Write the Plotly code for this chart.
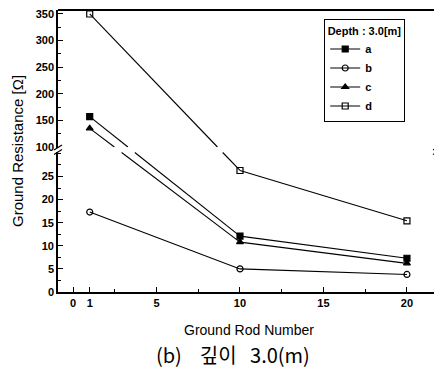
import plotly.graph_objects as go

# ---- data ----
rod_number = [1, 10, 20]
series_names = ["a", "b", "c", "d"]
res_a = [157, 12.1, 7.3]
res_b = [17.3, 5.0, 3.8]
res_c = [135, 10.8, 6.2]
res_d = [350, 26.3, 15.4]
symbols = {"a": "square", "b": "circle-open", "c": "triangle-up", "d": "square-open"}
x_ticks = [0, 1, 5, 10, 15, 20]
upper_ticks = [100, 150, 200, 250, 300, 350]
lower_ticks = [0, 5, 10, 15, 20, 25]

# ---- layout geometry (page pixels; page body has an 8px margin) ----
OFF = 8
W, H = 442 - OFF, 368 - OFF
P_LEFT, P_RIGHT, P_TOP, P_BOTTOM = 58, 437, 10, 292
ML, MR = P_LEFT - OFF, W - (P_RIGHT - OFF)
MT, MB = P_TOP - OFF, H - (P_BOTTOM - OFF)
PW, PH = P_RIGHT - P_LEFT, P_BOTTOM - P_TOP
XR = [-0.9, 21.8]
RU = [99, 357.5]
RL = [0, 30.3]
DU = [(P_BOTTOM - 147.5) / PH, 1.0]
DL = [0.0, (P_BOTTOM - 152) / PH]
SPLIT = 60
GAP = 0.5 / PH

def py_u(v):
    return DU[0] + (v - RU[0]) / (RU[1] - RU[0]) * (DU[1] - DU[0])

def py_l(v):
    return DL[0] + (v - RL[0]) / (RL[1] - RL[0]) * (DL[1] - DL[0])

def py(v):
    return py_u(v) if v > SPLIT else py_l(v)

fig = go.Figure()
line_style = dict(color="black", width=1.1)
data = {"a": res_a, "b": res_b, "c": res_c, "d": res_d}

for name in series_names:
    vals = data[name]
    up_x, up_y, lo_x, lo_y = [], [], [], []
    for xv, v in zip(rod_number, vals):
        if v > SPLIT:
            up_x.append(xv); up_y.append(v)
        else:
            lo_x.append(xv); lo_y.append(v)
    # bridges across the axis break
    for i in range(len(vals) - 1):
        v1, v2 = vals[i], vals[i + 1]
        if v1 > SPLIT and v2 <= SPLIT:
            x1, x2 = rod_number[i], rod_number[i + 1]
            p1, p2 = py(v1), py(v2)
            tu = (p1 - (DU[0] + GAP)) / (p1 - p2)
            tl = (p1 - (DL[1] - GAP)) / (p1 - p2)
            xu = x1 + tu * (x2 - x1)
            xl = x1 + tl * (x2 - x1)
            yu = RU[0] + GAP / (DU[1] - DU[0]) * (RU[1] - RU[0])
            yl = RL[1] - GAP / (DL[1] - DL[0]) * (RL[1] - RL[0])
            fig.add_trace(go.Scatter(x=[x1, xu], y=[v1, yu], mode="lines", line=line_style,
                                     xaxis="x", yaxis="y2", showlegend=False, hoverinfo="skip"))
            fig.add_trace(go.Scatter(x=[xl, x2], y=[yl, v2], mode="lines", line=line_style,
                                     xaxis="x", yaxis="y", showlegend=False, hoverinfo="skip"))
    mk = dict(symbol=symbols[name], size=6, color="black", line=dict(color="black", width=1.2))
    if up_x:
        fig.add_trace(go.Scatter(x=up_x, y=up_y, mode="lines+markers", line=line_style, marker=mk,
                                 xaxis="x", yaxis="y2", showlegend=False))
    fig.add_trace(go.Scatter(x=lo_x, y=lo_y, mode="lines+markers", line=line_style, marker=mk,
                             xaxis="x", yaxis="y", name=name, showlegend=True))

FONT = "Liberation Sans, Arial, sans-serif"
tickfont = dict(family=FONT, size=11, color="black", weight="bold")
common_y = dict(showline=True, linecolor="black", linewidth=1.6, mirror=True, ticks="inside",
                ticklen=5, tickcolor="black", tickfont=tickfont, showgrid=False, zeroline=False,
                ticklabeloverflow="allow")

fig.update_layout(
    width=W, height=H,
    margin=dict(l=ML, r=MR, t=MT, b=MB, autoexpand=False),
    paper_bgcolor="white", plot_bgcolor="white",
    xaxis=dict(range=XR, domain=[0, 1], anchor="y", showline=True, linecolor="black", linewidth=1.8,
               ticks="inside", ticklen=5, tickcolor="black", tickvals=x_ticks,
               tickfont=tickfont, showgrid=False, zeroline=False, ticklabeloverflow="allow",
               minor=dict(ticks="inside", ticklen=3, dtick=2.5, tick0=0, tickcolor="black")),
    yaxis=dict(range=RL, domain=DL, anchor="x", tickvals=lower_ticks,
               minor=dict(ticks="inside", ticklen=3, dtick=2.5, tick0=0, tickcolor="black"), **common_y),
    yaxis2=dict(range=RU, domain=DU, anchor="x", tickvals=upper_ticks,
                minor=dict(ticks="inside", ticklen=3, dtick=25, tick0=0, tickcolor="black"), **common_y),
    legend=dict(x=(324 - P_LEFT) / PW, y=(P_BOTTOM - 19) / PH, xanchor="left", yanchor="top",
                bordercolor="black", borderwidth=1.2, bgcolor="white",
                font=dict(family=FONT, size=11, color="black", weight="bold"),
                title=dict(text="Depth : 3.0[m]", side="top center",
                           font=dict(family=FONT, size=11, color="black", weight="bold")),
                itemwidth=30, tracegroupgap=0),
    showlegend=True,
)

def px(xp):
    return (xp - P_LEFT) / PW

def pyp(yp):
    return (P_BOTTOM - yp) / PH

shapes = [dict(type="line", xref="paper", yref="paper", x0=0, x1=1, y0=1, y1=1,
               line=dict(color="black", width=1.8))]
for xc in (P_LEFT, P_RIGHT):
    for yc in (147.5, 152):
        shapes.append(dict(type="line", xref="paper", yref="paper",
                           x0=px(xc - 4), y0=pyp(yc + 2.5), x1=px(xc + 4), y1=pyp(yc - 2.5),
                           line=dict(color="black", width=1.2)))
fig.update_layout(shapes=shapes)

NB = "\u00a0"
caption = "(b)" + NB * 4 + "깊이" + NB * 3 + "3.0(m)"

fig.add_annotation(text="Ground Resistance [Ω]", textangle=-90, xref="paper", yref="paper",
                   x=px(17), y=pyp(151), xanchor="center", yanchor="middle", showarrow=False,
                   font=dict(family=FONT, size=15, color="black"))
fig.add_annotation(text="Ground Rod Number", xref="paper", yref="paper",
                   x=px(249), y=pyp(330), xanchor="center", yanchor="middle", showarrow=False,
                   font=dict(family=FONT, size=14, color="black"))
fig.add_annotation(text=caption, xref="paper", yref="paper",
                   x=px(233), y=pyp(354), xanchor="center", yanchor="middle", showarrow=False,
                   font=dict(family="Noto Sans CJK KR", size=20, color="black"))

fig.write_html("out.html")
